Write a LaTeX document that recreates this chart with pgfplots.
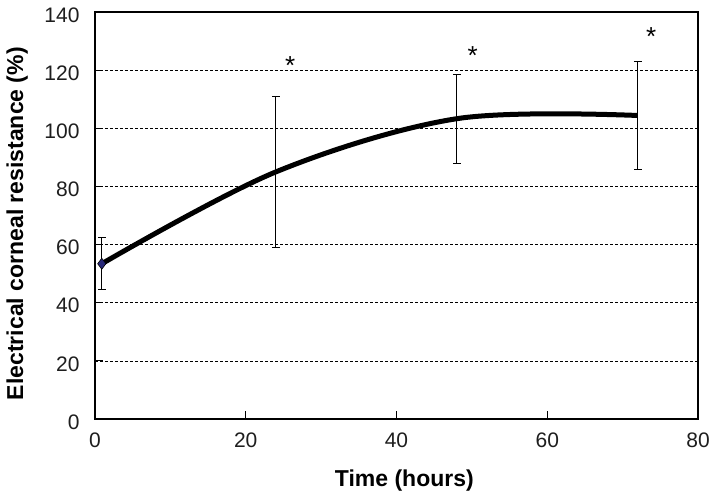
\documentclass[border=0pt]{standalone}
\usepackage{fontspec}
\setmainfont{Liberation Sans}
\usepackage{pgfplots}
\pgfplotsset{compat=1.18}
\definecolor{navy}{RGB}{40,40,120}
\definecolor{tickgray}{RGB}{30,30,30}
\begin{document}
\begin{tikzpicture}
\begin{axis}[
  scale only axis,
  width=603pt, height=407pt,
  xmin=0, xmax=80, ymin=0, ymax=140,
  xtick={0,20,40,60,80}, ytick={0,20,40,60,80,100,120,140},
  xtick pos=left, ytick pos=left,
  tick align=inside,
  major tick length=8pt,
  tick style={black, line width=1pt},
  axis line style={black, line width=1.8pt},
  /pgf/number format/assume math mode=true,
  ticklabel style={font=\fontsize{21}{25}\selectfont, text=tickgray},
  xticklabel style={yshift=-10pt},
  yticklabel style={xshift=-12pt, yshift=-3pt},
  ymajorgrids,
  grid style={black, line width=0.7pt, dash pattern=on 3pt off 2pt},
  xlabel={Time (hours)},
  ylabel={Electrical corneal resistance (\%)},
  label style={font=\fontsize{23}{27}\selectfont\bfseries},
  xlabel style={at={(axis description cs:0.513,-0.1663)}, anchor=base},
  ylabel style={at={(axis description cs:-0.1194,0.48)}, anchor=base},
  clip=false,
]
\addplot[black, line width=5pt, smooth, tension=0.55,
  mark=diamond*, mark indices={1}, mark size=5.5pt,
  mark options={fill=navy, draw=black, line width=0.6pt},
  error bars/.cd, y dir=both, y explicit,
  error bar style={black, line width=0.9pt},
  error mark options={black, line width=0.9pt, mark size=3.8pt, rotate=90}]
coordinates {
  (0.9,53.4) +- (0,9)
  (24,85) +- (0,26)
  (48,103.3) +- (0,15.3)
  (72,104.4) +- (0,18.5)
};
\addplot[only marks, mark=text, text mark={*}, text mark as node=true,
  text mark style={font=\fontsize{26}{30}\selectfont, yshift=-5pt}]
coordinates {(25.9,123.2) (50.1,126.7) (73.8,133.2)};
\end{axis}
\pgfresetboundingbox
\path ([shift={(-95pt,-80pt)}]current axis.south west) rectangle ([shift={(17pt,12pt)}]current axis.north east);
\end{tikzpicture}
\end{document}
